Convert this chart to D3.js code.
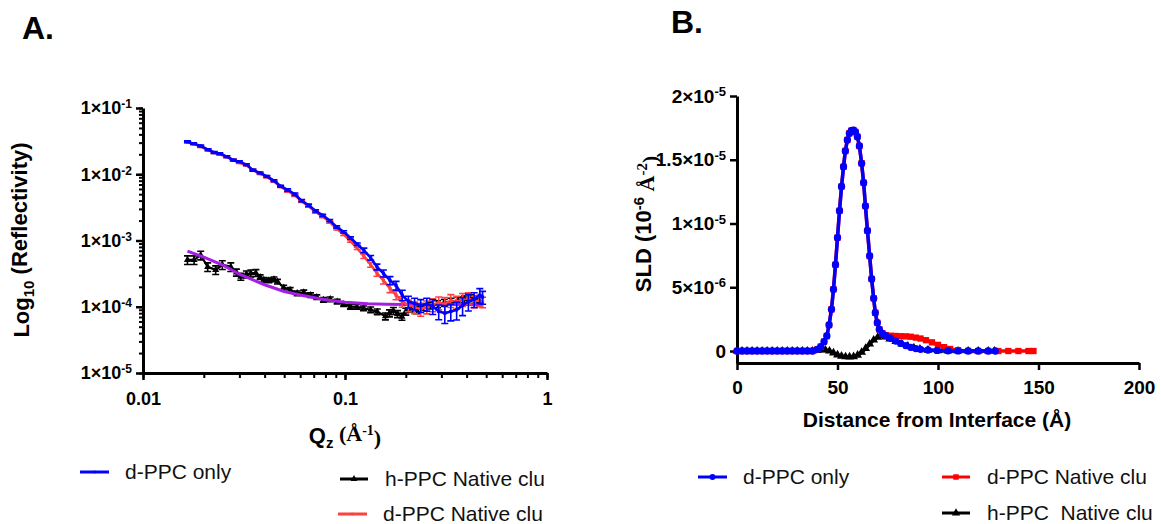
<!DOCTYPE html>
<html><head><meta charset="utf-8">
<script src="https://cdn.jsdelivr.net/npm/d3@7"></script>
<style>
body{margin:0;background:#fff;}
svg text{font-family:"Liberation Sans",Arial,Helvetica,sans-serif;}
</style></head><body>
<svg id="c" width="1161" height="524"></svg>
<script>
// ---------------- Panel A data (reflectivity) ----------------
const qBlue = [0.0166,0.0178,0.0193,0.0210,0.0225,0.0240,0.0260,0.0280,0.0300,0.0325,0.0350,0.0380,0.0410,0.0445,0.0480,0.0520,0.0565,0.0610,0.0660,0.0715,0.0775,0.0840,0.0910,0.0985,0.1065,0.1150,0.1240,0.1340,0.1440,0.1550,0.1670,0.1790,0.1920,0.2060,0.2210,0.2370,0.2540,0.2720,0.2910,0.3120,0.3340,0.3570,0.3820,0.4080,0.4360,0.4650,0.4800];
const rBlue = [0.0310,0.0290,0.0267,0.0235,0.0213,0.0205,0.0185,0.0163,0.0155,0.0140,0.0115,0.0105,0.0093,0.0080,0.0066,0.0058,0.0050,0.0040,0.0034,0.0028,0.0024,0.0020,0.0016,0.00135,0.00109,0.00088,0.00071,0.00055,0.00040,0.00032,0.00025,0.00021,0.000150,0.000120,0.000112,0.000105,0.000110,0.000102,0.000085,0.000080,0.000085,0.000090,0.000105,0.000120,0.000130,0.000150,0.000140];
const eBlue = [0.03,0.03,0.03,0.03,0.03,0.03,0.03,0.03,0.03,0.03,0.03,0.03,0.03,0.03,0.03,0.04,0.04,0.04,0.04,0.04,0.04,0.04,0.04,0.04,0.04,0.04,0.08,0.08,0.10,0.12,0.14,0.15,0.18,0.20,0.20,0.22,0.22,0.25,0.25,0.30,0.28,0.30,0.30,0.28,0.25,0.25,0.22];

const qRed = [0.0166,0.0178,0.0193,0.0210,0.0225,0.0240,0.0260,0.0280,0.0300,0.0325,0.0350,0.0380,0.0410,0.0445,0.0480,0.0520,0.0565,0.0610,0.0660,0.0715,0.0775,0.0840,0.0910,0.0985,0.1065,0.1150,0.1240,0.1340,0.1440,0.1550,0.1670,0.1790,0.1920,0.2060,0.2210,0.2370,0.2540,0.2720,0.2910,0.3120,0.3340,0.3570,0.3820,0.4080,0.4360,0.4650,0.4800];
const rRed = [0.0305,0.0288,0.0262,0.0232,0.0212,0.0200,0.0183,0.0165,0.0150,0.0137,0.0116,0.0102,0.0091,0.0078,0.0065,0.0056,0.0048,0.0039,0.0033,0.0027,0.0023,0.0019,0.00150,0.00124,0.00098,0.00076,0.00058,0.00043,0.00032,0.00025,0.00019,0.000150,0.000120,0.000105,0.000098,0.000092,0.000100,0.000108,0.000115,0.000110,0.000125,0.000118,0.000130,0.000135,0.000120,0.000125,0.000118];
const eRed = [0.03,0.03,0.03,0.03,0.03,0.03,0.03,0.03,0.03,0.03,0.03,0.03,0.03,0.03,0.03,0.04,0.04,0.04,0.04,0.04,0.04,0.04,0.04,0.04,0.04,0.04,0.08,0.08,0.10,0.12,0.14,0.15,0.18,0.20,0.20,0.22,0.22,0.22,0.22,0.25,0.22,0.22,0.22,0.20,0.20,0.20,0.18];

const qBlack = [0.0166,0.0179,0.0193,0.0209,0.0229,0.0247,0.0272,0.0290,0.0305,0.0325,0.0342,0.0362,0.0380,0.0396,0.0420,0.0445,0.0463,0.0497,0.0535,0.0580,0.0625,0.0675,0.0725,0.0782,0.0845,0.0915,0.0985,0.1064,0.1145,0.1234,0.1340,0.1444,0.1585,0.1660,0.1737,0.1820,0.1914,0.2000,0.2097,0.2264,0.2450,0.2650,0.2870,0.3100,0.3350,0.3620,0.3900,0.4200,0.4500];
const rBlack = [5.1e-4,5.1e-4,6.0e-4,4.0e-4,3.6e-4,4.3e-4,4.0e-4,3.3e-4,2.85e-4,3.1e-4,3.2e-4,3.25e-4,2.8e-4,2.55e-4,2.5e-4,2.6e-4,2.4e-4,1.95e-4,1.8e-4,1.6e-4,1.65e-4,1.5e-4,1.4e-4,1.27e-4,1.3e-4,1.2e-4,1.1e-4,1.0e-4,1.0e-4,9.5e-5,9.0e-5,8.4e-5,7.2e-5,8.0e-5,8.7e-5,7.8e-5,7.1e-5,8.5e-5,9.5e-5,8.9e-5,1.0e-4,1.05e-4,1.1e-4,1.15e-4,1.2e-4,1.25e-4,1.3e-4,1.35e-4,1.3e-4];
const eBlack = [0.15,0.15,0.15,0.15,0.15,0.15,0.15,0.12,0.12,0.12,0.12,0.12,0.08,0.08,0.08,0.08,0.08,0.08,0.08,0.08,0.08,0.08,0.08,0.08,0.08,0.08,0.08,0.08,0.08,0.08,0.10,0.10,0.12,0.12,0.12,0.12,0.12,0.12,0.12,0.12,0.12,0.12,0.12,0.12,0.12,0.12,0.12,0.12,0.12];

const qFit = [0.0166,0.02,0.025,0.03,0.04,0.05,0.06,0.08,0.1,0.13,0.16,0.2,0.25,0.3,0.4,0.48];
const rFit = [6.9e-4,5.6e-4,4.2e-4,3.1e-4,2.15e-4,1.7e-4,1.5e-4,1.28e-4,1.17e-4,1.11e-4,1.09e-4,1.08e-4,1.08e-4,1.08e-4,1.08e-4,1.08e-4];

const yMajorA = [1e-5,1e-4,1e-3,1e-2,1e-1];
const yExpA = ["-5","-4","-3","-2","-1"];
const xMajorA = [0.01,0.1,1];
const xLabA = ["0.01","0.1","1"];

// ---------------- Panel B data (SLD, units of 1e-6) ----------------
const xBlueB = [0,2.5,5,7.5,10,12.5,15,17.5,20,22.5,25,27.5,30,32.5,35,37.5,40,41.7,43.3,44.7,45.8,47,48,49,50,51,52,53,53.9,54.9,55.9,56.9,57.9,58.9,59.9,60.9,62,63,63.9,64.9,66,67,68,68.8,69.8,70.8,72.3,74,76.4,79,81.4,84,86.4,89,91.3,95,99.6,105,110,115,120,125,128.5];
const yBlueB = [0,0,0,0,0,0,0,0,0,0,0,0,0,0,0,0,0.13,0.34,0.73,1.18,2.04,3.27,4.84,6.77,8.89,11.0,12.9,14.45,15.69,16.55,17.07,17.28,17.33,17.18,16.81,16.08,14.72,13.2,11.37,9.44,7.45,5.65,4.13,3.0,2.22,1.70,1.39,1.2,1.0,0.78,0.6,0.43,0.29,0.19,0.13,0.08,0.05,0.02,0.01,0,0,0,0];

const xRedB = [0,2.5,5,7.5,10,12.5,15,17.5,20,22.5,25,27.5,30,32.5,35,37.5,40,41.7,43.3,44.7,45.8,47,48,49,50,51,52,53,53.9,54.9,55.9,56.9,57.9,58.9,59.9,60.9,62,63,63.9,64.9,66,67,68,68.8,69.8,70.8,72.3,74,76.4,79,81.4,84,86.4,89,91.3,94,97,100,103,106,110,115,120,125,130,135,140,145,147.5];
const yRedB = [0,0,0,0,0,0,0,0,0,0,0,0,0,0,0,0,0.13,0.34,0.73,1.18,2.04,3.27,4.84,6.77,8.89,11.0,12.9,14.45,15.69,16.55,17.07,17.28,17.33,17.18,16.81,16.08,14.72,13.2,11.37,9.44,7.45,5.65,4.13,3.0,2.22,1.70,1.39,1.25,1.2,1.18,1.16,1.15,1.12,1.05,0.98,0.85,0.68,0.48,0.3,0.16,0.06,0.01,0,0,0,0,0,0,0];

const xBlackB = [0,2.5,5,7.5,10,12.5,15,17.5,20,22.5,25,27.5,30,32.5,35,37.5,40,42,44,46,48,50,52,54,56,58,60,62,64,66,68,70,72,74,76,79,82,85,88,91,95,100,105,110,115,120,125,128];
const yBlackB = [0,0,0,0,0,0,0,0,0,0,0,0,0,0,0,0,0.05,0.1,0.08,0.0,-0.15,-0.3,-0.4,-0.45,-0.46,-0.44,-0.32,-0.1,0.2,0.55,0.86,1.08,1.2,1.1,0.95,0.75,0.55,0.38,0.24,0.14,0.07,0.03,0.01,0,0,0,0,0];

const yTicksB = [0,5,10,15,20];
const yMantB = ["0","5×10","1×10","1.5×10","2×10"];
const yExpB = [null,"-6","-5","-5","-5"];
const xTicksB = [0,50,100,150,200];

// ---------------- drawing ----------------
const svg = d3.select("#c");
const BOLD = "bold";

// Panel labels
svg.append("text").attr("x",22).attr("y",39).attr("font-size",32).attr("font-weight",BOLD).text("A.");
svg.append("text").attr("x",671).attr("y",33).attr("font-size",32).attr("font-weight",BOLD).text("B.");

// ===== Panel A =====
const xA = d3.scaleLog().domain([0.01,1]).range([143,547]);
const yA = d3.scaleLog().domain([1e-5,1e-1]).range([373,108]);

function styleAxis(g){
  g.attr("font-family",null).attr("font-size",null);
  g.select(".domain").attr("stroke","#000").attr("stroke-width",3);
  g.selectAll(".tick line").attr("stroke","#000").attr("stroke-width",2.5);
}
// minor ticks
const gyAm = svg.append("g").attr("transform","translate(143,0)")
  .call(d3.axisLeft(yA).tickValues(yA.ticks()).tickSize(4).tickFormat(""));
gyAm.select(".domain").remove(); gyAm.selectAll("line").attr("stroke-width",2);
const gxAm = svg.append("g").attr("transform","translate(0,373)")
  .call(d3.axisBottom(xA).tickValues(xA.ticks()).tickSize(5).tickFormat(""));
gxAm.select(".domain").remove(); gxAm.selectAll("line").attr("stroke-width",2);

const gyA = svg.append("g").attr("transform","translate(143,0)")
  .call(d3.axisLeft(yA).tickValues(yMajorA).tickSize(7).tickSizeOuter(0).tickPadding(4).tickFormat(""));
styleAxis(gyA);
gyA.selectAll(".tick text").each(function(d,i){
  const t = d3.select(this).attr("font-size",18).attr("font-weight",BOLD).attr("fill","#000");
  t.text(null);
  t.append("tspan").text("1×10");
  t.append("tspan").attr("dy","-0.5em").attr("font-size",12).text(yExpA[i]);
});
const gxA = svg.append("g").attr("transform","translate(0,373)")
  .call(d3.axisBottom(xA).tickValues(xMajorA).tickSize(7).tickSizeOuter(0).tickPadding(12).tickFormat((d,i)=>xLabA[i]));
styleAxis(gxA);
gxA.selectAll(".tick text").attr("font-size",18).attr("font-weight",BOLD).attr("fill","#000");

// axis titles A
const tA = svg.append("text").attr("transform","translate(29,240) rotate(-90)")
  .attr("text-anchor","middle").attr("font-size",22).attr("font-weight",BOLD);
tA.append("tspan").text("Log");
tA.append("tspan").attr("font-size",15).attr("dy","0.3em").text("10");
tA.append("tspan").attr("dy","-0.3em").text(" (Reflectivity)");

const xtA = svg.append("text").attr("x",345).attr("y",443).attr("text-anchor","middle")
  .attr("font-size",22).attr("font-weight",BOLD);
xtA.append("tspan").text("Q");
xtA.append("tspan").attr("font-size",15).attr("dy","0.3em").text("z");
xtA.append("tspan").attr("dy","-0.3em").attr("font-family","Liberation Serif, Times New Roman, serif").text(" (Å");
xtA.append("tspan").attr("dy","-0.45em").attr("font-size",14).attr("font-family","Liberation Serif, Times New Roman, serif").text("-1");
xtA.append("tspan").attr("dy","0.45em").attr("font-family","Liberation Serif, Times New Roman, serif").text(")");

function seriesA(qs, rs, es, color, sym, symSize, lw){
  const pts = qs.map((q,i)=>({q:q, r:rs[i], e: es ? es[i] : 0}));
  const g = svg.append("g");
  if (es){
    g.selectAll("path.eb").data(pts).join("path").attr("class","eb")
      .attr("d", d=>{
        const x = xA(d.q), y1 = yA(d.r*(1+d.e)), y0 = yA(d.r*(1-d.e));
        return `M${x},${y0}V${y1}M${x-3.5},${y1}H${x+3.5}M${x-3.5},${y0}H${x+3.5}`;
      })
      .attr("stroke",color).attr("stroke-width",1.6).attr("fill","none");
  }
  g.append("path").datum(pts)
    .attr("d", d3.line().x(d=>xA(d.q)).y(d=>yA(d.r)))
    .attr("fill","none").attr("stroke",color).attr("stroke-width",lw);
  if (sym){
    g.selectAll("path.mk").data(pts).join("path").attr("class","mk")
      .attr("transform", d=>`translate(${xA(d.q)},${yA(d.r)})`)
      .attr("d", d3.symbol().type(sym).size(symSize)).attr("fill",color);
  }
}
seriesA(qBlack, rBlack, eBlack, "#000000", d3.symbolTriangle, 22, 2.2);
seriesA(qFit, rFit, null, "#a51ee6", null, 0, 3);
seriesA(qRed, rRed, eRed, "#ff4040", d3.symbolSquare, 10, 2.6);
seriesA(qBlue, rBlue, eBlue, "#0000ff", d3.symbolSquare, 10, 2.6);

// legend
function legendItem(x1, x2, y, color, sym, symSize, label, tx){
  svg.append("line").attr("x1",x1).attr("x2",x2).attr("y1",y).attr("y2",y)
    .attr("stroke",color).attr("stroke-width",3);
  if (sym) svg.append("path").attr("transform",`translate(${(x1+x2)/2},${y})`)
    .attr("d", d3.symbol().type(sym).size(symSize)).attr("fill",color);
  svg.append("text").attr("x",tx).attr("y",y+7).attr("font-size",21)
    .style("white-space","pre").attr("fill","#111").text(label);
}
legendItem(80,109,472,"#0000ff",d3.symbolSquare,6,"d-PPC only",125);
legendItem(340,368,479,"#000000",d3.symbolTriangle,20,"h-PPC Native clu",385);
legendItem(338,367,514,"#ff4040",d3.symbolSquare,6,"d-PPC Native clu",383);

// ===== Panel B =====
const xB = d3.scaleLinear().domain([0,200]).range([737,1139]);
const yB = d3.scaleLinear().domain([-0.94,20]).range([363,96]);

const gyB = svg.append("g").attr("transform","translate(737,0)")
  .call(d3.axisLeft(yB).tickValues(yTicksB).tickSize(7).tickSizeOuter(0).tickPadding(4).tickFormat(""));
styleAxis(gyB);
gyB.selectAll(".tick text").each(function(d,i){
  const t = d3.select(this).attr("font-size",19).attr("font-weight",BOLD).attr("fill","#000");
  t.text(null);
  t.append("tspan").text(yMantB[i]);
  if (yExpB[i]) t.append("tspan").attr("dy","-0.5em").attr("font-size",13).text(yExpB[i]);
});
const gxB = svg.append("g").attr("transform","translate(0,363)")
  .call(d3.axisBottom(xB).tickValues(xTicksB).tickSize(7).tickSizeOuter(0).tickPadding(11).tickFormat(d3.format("d")));
styleAxis(gxB);
gxB.selectAll(".tick text").attr("font-size",19).attr("font-weight",BOLD).attr("fill","#000");

// axis titles B
const tB = svg.append("text").attr("transform","translate(651,224) rotate(-90)")
  .attr("text-anchor","middle").attr("font-size",22).attr("font-weight",BOLD);
tB.append("tspan").text("SLD (10");
tB.append("tspan").attr("dy","-0.45em").attr("font-size",15).text("-6");
tB.append("tspan").attr("dy","0.45em").attr("font-family","Liberation Serif, Times New Roman, serif").text(" Å");
tB.append("tspan").attr("dy","-0.45em").attr("font-size",15).attr("font-family","Liberation Serif, Times New Roman, serif").text("-2");
tB.append("tspan").attr("dy","0.45em").attr("font-family","Liberation Serif, Times New Roman, serif").text(")");

svg.append("text").attr("x",937).attr("y",427).attr("text-anchor","middle")
  .attr("font-size",21).attr("font-weight",BOLD).text("Distance from Interface (Å)");

function seriesB(xs, ys, color, sym, symSize){
  const pts = xs.map((x,i)=>({x:x, y:ys[i]}));
  const g = svg.append("g");
  g.append("path").datum(pts)
    .attr("d", d3.line().x(d=>xB(d.x)).y(d=>yB(d.y)))
    .attr("fill","none").attr("stroke",color).attr("stroke-width",3.5);
  g.selectAll("path.mk").data(pts).join("path").attr("class","mk")
    .attr("transform", d=>`translate(${xB(d.x)},${yB(d.y)})`)
    .attr("d", d3.symbol().type(sym).size(symSize)).attr("fill",color);
}
seriesB(xBlackB, yBlackB, "#000000", d3.symbolTriangle, 34);
seriesB(xRedB, yRedB, "#ff0000", d3.symbolSquare, 40);
seriesB(xBlueB, yBlueB, "#0000ff", d3.symbolCircle, 42);

// legend B
legendItem(698,727,477,"#0000ff",d3.symbolCircle,28,"d-PPC only",743);
legendItem(942,970,477,"#ff0000",d3.symbolSquare,30,"d-PPC Native clu",987);
legendItem(942,970,513,"#000000",d3.symbolTriangle,30,"h-PPC  Native clu",987);
</script>
</body></html>
